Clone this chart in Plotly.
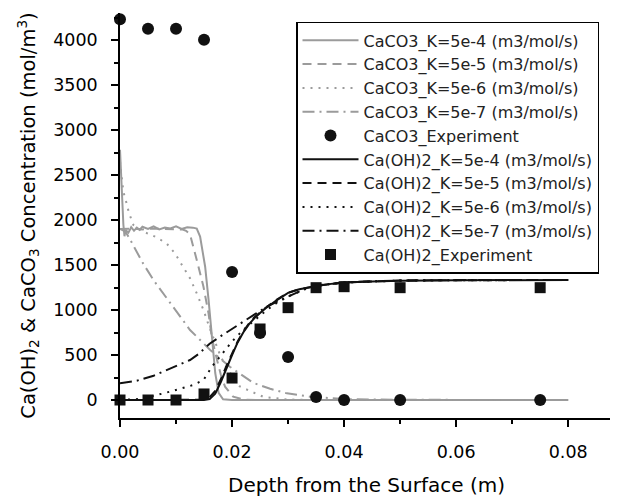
import plotly.graph_objects as go

# ---------------- data ----------------
# CaCO3 simulated profiles (grey)
caco3_k4_x = [0, 0.0002, 0.0004, 0.0006, 0.0008, 0.001, 0.0015, 0.002, 0.0025, 0.003, 0.0035, 0.004,
              0.005, 0.006, 0.007, 0.008, 0.009, 0.010, 0.011, 0.012, 0.013, 0.0137, 0.0143, 0.0152,
              0.0158, 0.0164, 0.017, 0.0176, 0.0184, 0.020, 0.030, 0.040, 0.060, 0.080]
caco3_k4_y = [2780, 2450, 2150, 1950, 1820, 1890, 1860, 1920, 1880, 1915, 1890, 1925,
              1900, 1930, 1895, 1915, 1905, 1930, 1900, 1920, 1915, 1905, 1815, 1481,
              1117, 672, 300, 80, 8, 0, 0, 0, 0, 0]

caco3_k5_x = [0, 0.002, 0.004, 0.006, 0.008, 0.010, 0.0112, 0.0118, 0.0125, 0.0137, 0.0149, 0.0158,
              0.0164, 0.0173, 0.0180, 0.01875, 0.0202, 0.022, 0.025, 0.080]
caco3_k5_y = [1900, 1905, 1895, 1905, 1900, 1900, 1895, 1880, 1840, 1556, 1259, 963,
              690, 450, 280, 148, 37, 5, 0, 0]

caco3_k6_x = [0, 0.0003, 0.0006, 0.0011, 0.0016, 0.0024, 0.0042, 0.00625, 0.0083, 0.0098, 0.0113,
              0.0125, 0.0137, 0.0149, 0.016, 0.017, 0.018, 0.019, 0.0214, 0.0256, 0.030, 0.035, 0.080]
caco3_k6_y = [2650, 2444, 2315, 2204, 2080, 1944, 1870, 1815, 1741, 1630, 1481,
              1352, 1185, 1000, 800, 640, 480, 360, 150, 35, 5, 0, 0]

caco3_k7_x = [0, 0.001, 0.002, 0.004, 0.006, 0.009, 0.0125, 0.0161, 0.0196, 0.0238, 0.0268,
              0.0298, 0.0339, 0.040, 0.050, 0.080]
caco3_k7_y = [1900, 1870, 1760, 1530, 1330, 1074, 778, 556, 370, 190, 125,
              74, 37, 10, 2, 0]

# Ca(OH)2 simulated profiles (black)
caoh_k4_x = [0, 0.005, 0.010, 0.015, 0.016, 0.017, 0.018, 0.019, 0.020, 0.021, 0.022, 0.023, 0.024,
             0.025, 0.026, 0.028, 0.030, 0.032, 0.034, 0.036, 0.038, 0.040, 0.045, 0.050, 0.060, 0.080]
caoh_k4_y = [0, 0, 0, 0, 10, 70, 200, 360, 500, 640, 750, 840, 910,
             967, 1020, 1110, 1190, 1230, 1255, 1275, 1293, 1305, 1318, 1326, 1331, 1333]

caoh_k5_x = [0, 0.005, 0.010, 0.014, 0.015, 0.016, 0.017, 0.018, 0.019, 0.020, 0.021, 0.022, 0.023,
             0.024, 0.025, 0.026, 0.028, 0.030, 0.032, 0.034, 0.036, 0.040, 0.045, 0.050, 0.060, 0.080]
caoh_k5_y = [0, 0, 0, 2, 10, 30, 100, 230, 380, 520, 650, 760, 850,
             920, 975, 1025, 1115, 1192, 1232, 1257, 1277, 1306, 1319, 1327, 1331, 1333]

caoh_k6_x = [0, 0.003, 0.0054, 0.0089, 0.0131, 0.0149, 0.0164, 0.018, 0.020, 0.022, 0.024, 0.026,
             0.028, 0.030, 0.033, 0.036, 0.040, 0.050, 0.060, 0.080]
caoh_k6_y = [0, 10, 37, 92, 167, 222, 370, 500, 650, 780, 890, 990,
             1080, 1150, 1230, 1275, 1305, 1326, 1331, 1333]

caoh_k7_x = [0, 0.003, 0.006, 0.009, 0.0125, 0.014, 0.016, 0.018, 0.020, 0.0232, 0.026, 0.0286,
             0.031, 0.0333, 0.036, 0.040, 0.045, 0.050, 0.060, 0.080]
caoh_k7_y = [185, 215, 270, 350, 444, 510, 625, 710, 790, 926, 1030, 1111,
             1180, 1241, 1280, 1305, 1320, 1328, 1332, 1333]

# Experimental points
exp_depth = [0, 0.005, 0.010, 0.015, 0.020, 0.025, 0.030, 0.035, 0.040, 0.050, 0.075]
caco3_exp = [4230, 4124, 4124, 4002, 1422, 744, 478, 33, 0, 0, 0]
caoh_exp = [0, 0, 0, 67, 244, 789, 1026, 1248, 1259, 1248, 1248]

names = [
    "CaCO3_K=5e-4 (m3/mol/s)", "CaCO3_K=5e-5 (m3/mol/s)", "CaCO3_K=5e-6 (m3/mol/s)",
    "CaCO3_K=5e-7 (m3/mol/s)", "CaCO3_Experiment",
    "Ca(OH)2_K=5e-4 (m3/mol/s)", "Ca(OH)2_K=5e-5 (m3/mol/s)", "Ca(OH)2_K=5e-6 (m3/mol/s)",
    "Ca(OH)2_K=5e-7 (m3/mol/s)", "Ca(OH)2_Experiment",
]

x_ticks = [0, 0.02, 0.04, 0.06, 0.08]
y_ticks = [0, 500, 1000, 1500, 2000, 2500, 3000, 3500, 4000]

# ---------------- figure ----------------
GREY = "#9b9b9b"
BLACK = "#111111"
FONT = "DejaVu Sans"

fig = go.Figure()

def line(x, y, name, color, dash):
    fig.add_trace(go.Scatter(x=x, y=y, name=name, mode="lines",
                             line=dict(color=color, width=2, dash=dash), cliponaxis=False))

line(caco3_k4_x, caco3_k4_y, names[0], GREY, "solid")
line(caco3_k5_x, caco3_k5_y, names[1], GREY, "9px,6px")
line(caco3_k6_x, caco3_k6_y, names[2], GREY, "2px,6px")
line(caco3_k7_x, caco3_k7_y, names[3], GREY, "12px,5px,2px,5px")
fig.add_trace(go.Scatter(x=exp_depth, y=caco3_exp, name=names[4], mode="markers",
                         marker=dict(symbol="circle", size=12, color=BLACK), cliponaxis=False))
line(caoh_k4_x, caoh_k4_y, names[5], BLACK, "solid")
line(caoh_k5_x, caoh_k5_y, names[6], BLACK, "9px,6px")
line(caoh_k6_x, caoh_k6_y, names[7], BLACK, "2px,6px")
line(caoh_k7_x, caoh_k7_y, names[8], BLACK, "12px,5px,2px,5px")
fig.add_trace(go.Scatter(x=exp_depth, y=caoh_exp, name=names[9], mode="markers",
                         marker=dict(symbol="square", size=11, color=BLACK), cliponaxis=False))

fig.update_layout(
    width=610, height=489,
    margin=dict(l=112, r=5, t=5, b=79, autoexpand=False),
    paper_bgcolor="white", plot_bgcolor="white",
    font=dict(family=FONT, color="black"),
    showlegend=True,
    legend=dict(
        x=0.357, y=0.978, xanchor="left", yanchor="top",
        bgcolor="white", bordercolor="black", borderwidth=1.5,
        font=dict(family=FONT, size=16, color="#222"),
        itemwidth=56, traceorder="normal",
    ),
    xaxis=dict(
        range=[0, 0.088], showgrid=False, zeroline=False, automargin=False,
        showline=True, linecolor="black", linewidth=1.5,
        ticks="outside", ticklen=7, tickwidth=1.5, tickcolor="black",
        tickvals=x_ticks, ticktext=[f"{v:.2f}" for v in x_ticks],
        tickfont=dict(family=FONT, size=17.5), ticklabelstandoff=10,
        minor=dict(dtick=0.01, tick0=0, ticks="outside", ticklen=4, tickwidth=1.5, tickcolor="black"),
        title=dict(text="Depth from the Surface (m)", font=dict(family=FONT, size=20), standoff=25),
    ),
    yaxis=dict(
        range=[-200, 4300], showgrid=False, zeroline=False, automargin=False,
        showline=True, linecolor="black", linewidth=1.5,
        ticks="outside", ticklen=7, tickwidth=1.5, tickcolor="black",
        tickvals=y_ticks, ticktext=[str(v) for v in y_ticks],
        tickfont=dict(family=FONT, size=17.5), ticklabelstandoff=10,
        minor=dict(dtick=250, tick0=0, ticks="outside", ticklen=4, tickwidth=1.5, tickcolor="black"),
        title=dict(text="Ca(OH)<sub>2</sub> & CaCO<sub>3</sub> Concentration (mol/m<sup>3</sup>)",
                   font=dict(family=FONT, size=19.5), standoff=12),
    ),
)

fig.write_html("out.html")
